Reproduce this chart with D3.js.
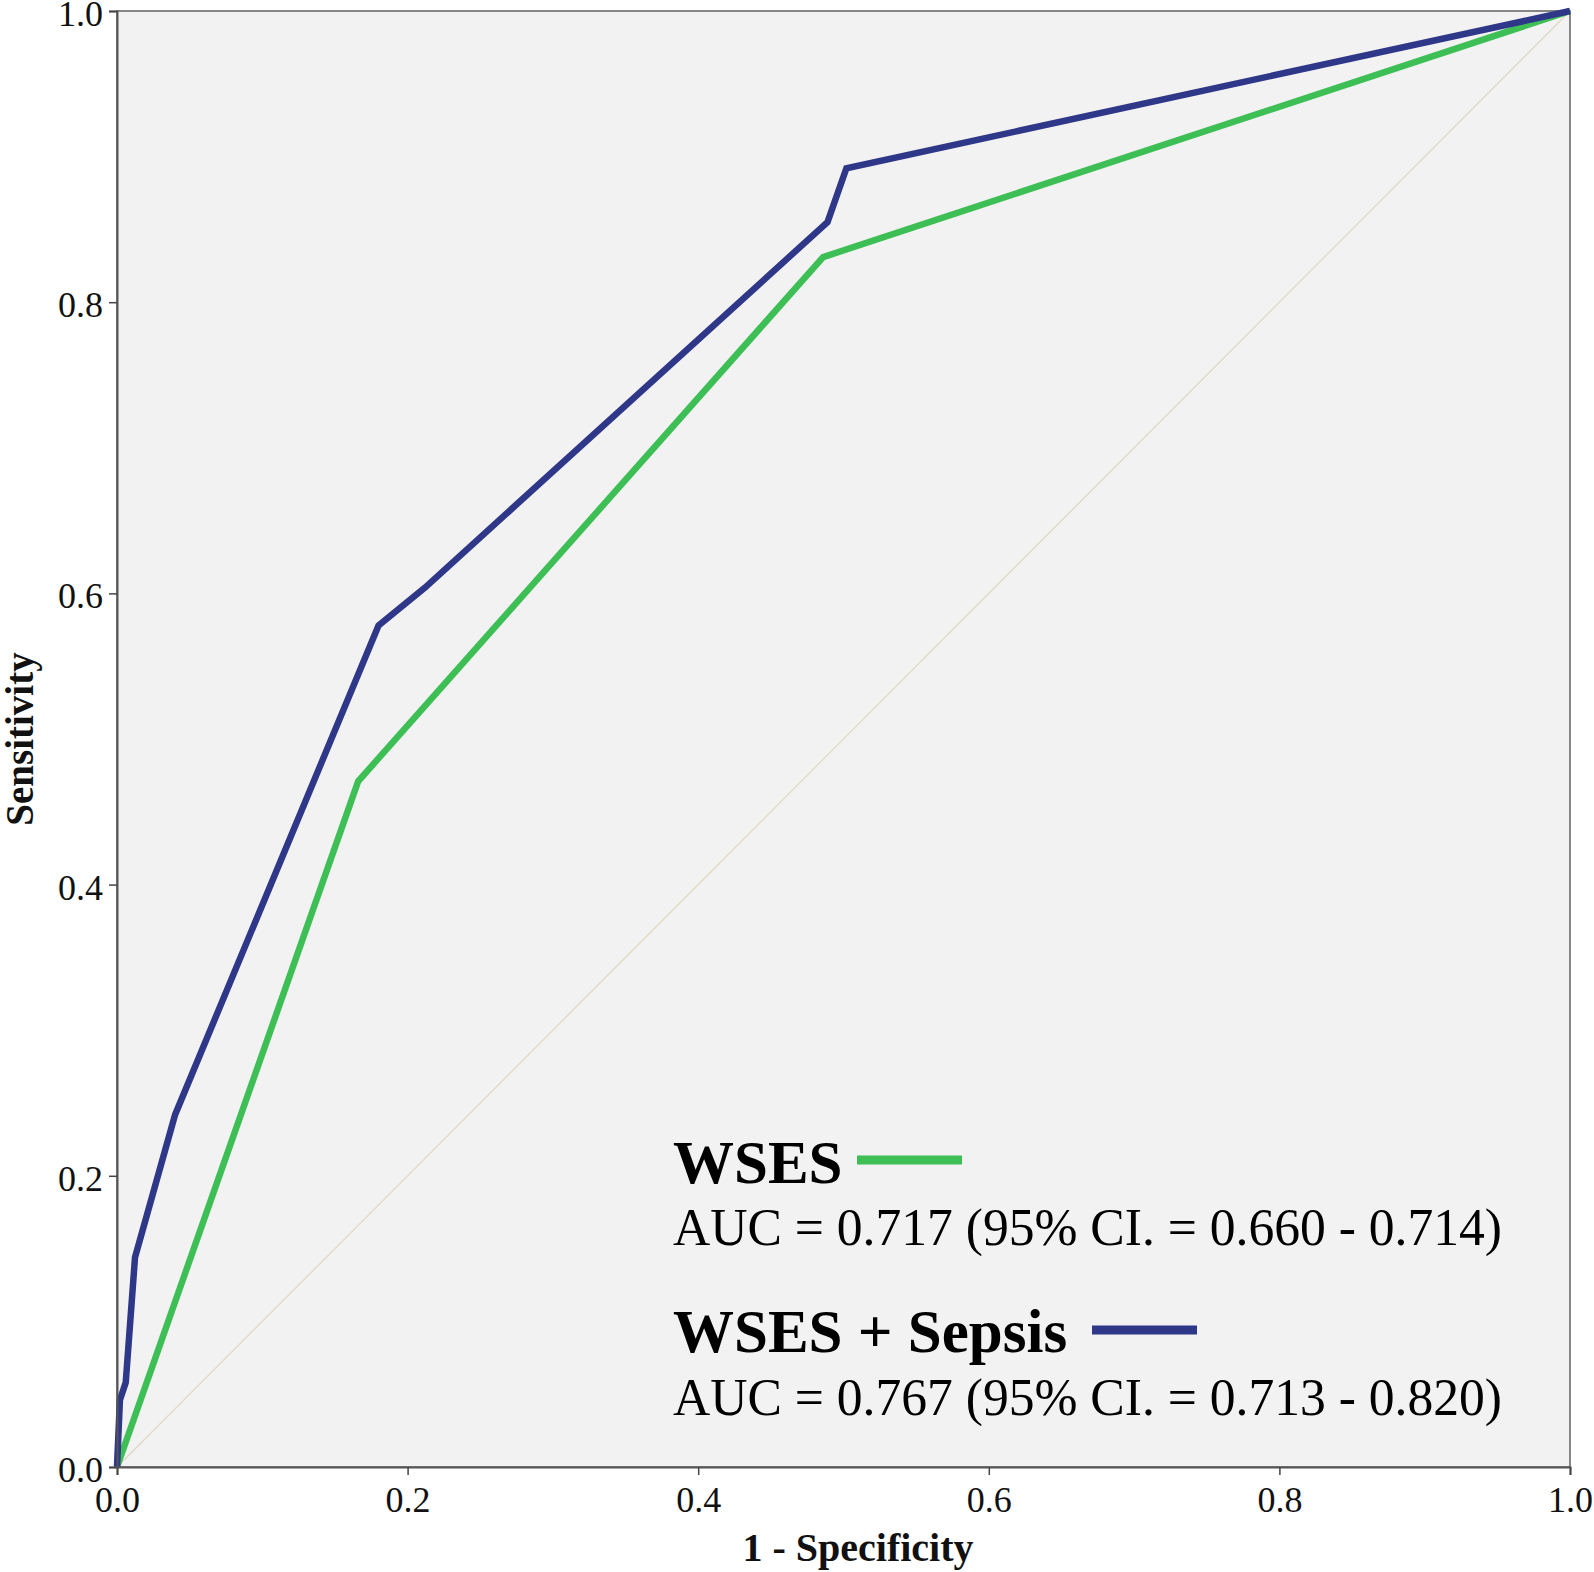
<!DOCTYPE html>
<html>
<head>
<meta charset="utf-8">
<script src="https://cdn.jsdelivr.net/npm/d3@7"></script>
<style>
  html, body { margin: 0; padding: 0; background: #ffffff; }
  svg { display: block; }
</style>
</head>
<body>
<svg id="chart" width="1594" height="1572"></svg>
<script>
// ---- data ----
const xTicks = [0.0, 0.2, 0.4, 0.6, 0.8, 1.0];
const yTicks = [0.0, 0.2, 0.4, 0.6, 0.8, 1.0];

const wsesFPR = [0, 0.166, 0.486, 1];
const wsesTPR = [0, 0.471, 0.831, 1];

const comboFPR = [0, 0.002, 0.006, 0.0124, 0.040, 0.180, 0.212, 0.489, 0.502, 1];
const comboTPR = [0, 0.046, 0.058, 0.144, 0.242, 0.578, 0.604, 0.855, 0.892, 1];

const refFPR = [0, 1];
const refTPR = [0, 1];

const seriesNames = ["WSES", "WSES + Sepsis"];
const seriesAUC = [
  "AUC = 0.717 (95% CI. = 0.660 - 0.714)",
  "AUC = 0.767 (95% CI. = 0.713 - 0.820)"
];
const seriesColors = ["#3dbf55", "#2e3788"];

const xTitle = "1 - Specificity";
const yTitle = "Sensitivity";

// ---- layout ----
const margin = { left: 117, top: 11, right: 24, bottom: 105 };
const W = 1594, H = 1572;
const plotW = W - margin.left - margin.right;   // 1453
const plotH = H - margin.top - margin.bottom;   // 1456

const svg = d3.select("#chart");
const g = svg.append("g").attr("transform", `translate(${margin.left},${margin.top})`);

const x = d3.scaleLinear().domain([0, 1]).range([0, plotW]);
const y = d3.scaleLinear().domain([0, 1]).range([plotH, 0]);

const serif = "'Liberation Serif', 'Times New Roman', Times, serif";

// plot background
g.append("rect")
  .attr("x", x(0)).attr("y", y(1))
  .attr("width", x(1) - x(0)).attr("height", y(0) - y(1))
  .attr("fill", "#f2f2f2");

// reference diagonal
const line = d3.line().x(d => x(d[0])).y(d => y(d[1]));
g.append("path")
  .datum(d3.zip(refFPR, refTPR))
  .attr("d", line)
  .attr("fill", "none")
  .attr("stroke", "#ddd9bf")
  .attr("stroke-width", 1.2);

// frame (top/right)
g.append("rect")
  .attr("x", x(0)).attr("y", y(1))
  .attr("width", x(1) - x(0)).attr("height", y(0) - y(1))
  .attr("fill", "none")
  .attr("stroke", "#6a6a6a")
  .attr("stroke-width", 1.6);

// curves
const curves = [d3.zip(wsesFPR, wsesTPR), d3.zip(comboFPR, comboTPR)];
curves.forEach((pts, i) => {
  g.append("path")
    .datum(pts)
    .attr("d", line)
    .attr("fill", "none")
    .attr("stroke", seriesColors[i])
    .attr("stroke-width", 6.5)
    .attr("stroke-linejoin", "miter");
});

// axes
const fmt = d3.format(".1f");
const xAxis = g.append("g")
  .attr("transform", `translate(0,${plotH})`)
  .call(d3.axisBottom(x).tickValues(xTicks).tickFormat(fmt).tickSize(8).tickPadding(11));
const yAxis = g.append("g")
  .call(d3.axisLeft(y).tickValues(yTicks).tickFormat(fmt).tickSize(8).tickPadding(6));

[xAxis, yAxis].forEach(a => {
  a.select(".domain").attr("stroke", "#555").attr("stroke-width", 2);
  a.selectAll(".tick line").attr("stroke", "#444").attr("stroke-width", 1.5);
  a.selectAll(".tick text")
    .attr("font-family", serif)
    .attr("font-size", 36)
    .attr("fill", "#111");
});
yAxis.selectAll(".tick text").attr("dy", "0.4em");

// axis titles
svg.append("text")
  .attr("x", 858).attr("y", 1561)
  .attr("text-anchor", "middle")
  .attr("font-family", serif)
  .attr("font-weight", "bold")
  .attr("font-size", 40)
  .attr("fill", "#111")
  .text(xTitle);

svg.append("text")
  .attr("transform", `translate(33,${margin.top + plotH / 2}) rotate(-90)`)
  .attr("text-anchor", "middle")
  .attr("font-family", serif)
  .attr("font-weight", "bold")
  .attr("font-size", 39)
  .attr("fill", "#111")
  .text(yTitle);

// legend
const legendX = 673;
const nameBaselines = [1183, 1352];
const aucBaselines = [1245, 1415];
const aucWidth = 829;
const swatchX = [[857, 962], [1092, 1197]];
const swatchY = [1160, 1330];

seriesNames.forEach((name, i) => {
  svg.append("text")
    .attr("x", legendX).attr("y", nameBaselines[i])
    .attr("font-family", serif)
    .attr("font-weight", "bold")
    .attr("font-size", 61)
    .attr("fill", "#000")
    .text(name);
  svg.append("line")
    .attr("x1", swatchX[i][0]).attr("x2", swatchX[i][1])
    .attr("y1", swatchY[i]).attr("y2", swatchY[i])
    .attr("stroke", seriesColors[i])
    .attr("stroke-width", 9);
  svg.append("text")
    .attr("x", legendX).attr("y", aucBaselines[i])
    .attr("font-family", serif)
    .attr("font-size", 53)
    .attr("textLength", aucWidth)
    .attr("lengthAdjust", "spacingAndGlyphs")
    .attr("fill", "#000")
    .text(seriesAUC[i]);
});
</script>
</body>
</html>
